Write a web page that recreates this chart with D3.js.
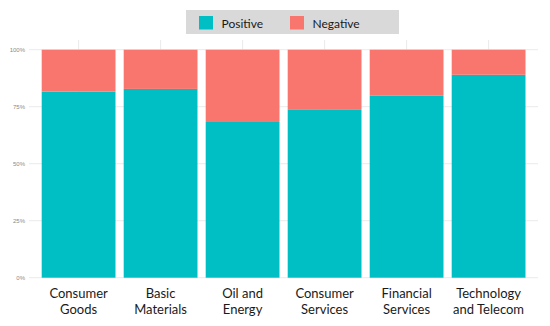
<!DOCTYPE html>
<html>
<head>
<meta charset="utf-8">
<script src="https://cdn.jsdelivr.net/npm/d3@7"></script>
<style>
  body { margin: 0; background: #fff; }
  svg { display: block; }
</style>
</head>
<body>
<div id="container"></div>
<script>
// sectors on the x axis (each label split into two lines)
var sectors = ["Consumer Goods", "Basic Materials", "Oil and Energy", "Consumer Services", "Financial Services", "Technology and Telecom"];
var sectorLines = [["Consumer", "Goods"], ["Basic", "Materials"], ["Oil and", "Energy"], ["Consumer", "Services"], ["Financial", "Services"], ["Technology", "and Telecom"]];
// share of positive mentions, negative is the rest
var positive = [0.816, 0.828, 0.683, 0.736, 0.798, 0.890];
var negative = [0.184, 0.172, 0.317, 0.264, 0.202, 0.110];
var seriesNames = ["Positive", "Negative"];
var seriesColors = ["#00BFC4", "#F8766D"];
var yTicks = [0, 0.25, 0.5, 0.75, 1];

var width = 550,
    height = 326;

var svg = d3.select('#container').append('svg')
      .attr("width", width)
      .attr("height", height);

var x = d3.scaleBand()
      .domain(sectors)
      .range([37.6, 529.6])
      .paddingInner(0.1)
      .paddingOuter(0.05);

var y = d3.scaleLinear()
      .domain([0, 1])
      .range([277.7, 49.7]);

// grid
var grid = svg.append('g').attr('class', 'grid');
grid.selectAll('line.h')
    .data(yTicks)
    .enter()
    .append('line')
    .attr('x1', 29).attr('x2', 538)
    .attr('y1', function(d) { return y(d); })
    .attr('y2', function(d) { return y(d); })
    .attr('stroke', '#ebebeb')
    .attr('stroke-width', 1);
grid.selectAll('line.v')
    .data(sectors)
    .enter()
    .append('line')
    .attr('x1', function(d) { return x(d) + x.bandwidth() / 2; })
    .attr('x2', function(d) { return x(d) + x.bandwidth() / 2; })
    .attr('y1', 40).attr('y2', 278)
    .attr('stroke', '#ebebeb')
    .attr('stroke-width', 1);

var rows = sectors.map(function(s, i) {
  return {sector: s, Positive: positive[i], Negative: negative[i]};
});
var stacked = d3.stack().keys(seriesNames)(rows);

svg.append('g')
    .attr('class', 'bars')
    .selectAll('g')
    .data(stacked)
    .enter()
    .append('g')
    .attr('fill', function(d, i) { return seriesColors[i]; })
    .selectAll('rect')
    .data(function(d) { return d; })
    .enter()
    .append('rect')
    .attr('x', function(d) { return x(d.data.sector); })
    .attr('width', x.bandwidth())
    .attr('y', function(d) { return y(d[1]); })
    .attr('height', function(d) { return y(d[0]) - y(d[1]); });

// y axis labels (tiny, grey)
var yAxis = d3.axisLeft(y)
      .tickValues(yTicks)
      .tickFormat(d3.format(".0%"))
      .tickSize(0)
      .tickPadding(4);
var yg = svg.append('g')
      .attr('transform', 'translate(29,0)')
      .call(yAxis);
yg.select('.domain').remove();
yg.selectAll('text')
    .attr('fill', '#8a8a8a')
    .style('font-family', 'Liberation Sans, sans-serif')
    .style('font-size', '6px');

// x labels, two lines each
var xl = svg.append('g')
    .attr('class', 'xlabels')
    .selectAll('text')
    .data(sectors)
    .enter()
    .append('text')
    .attr('text-anchor', 'middle')
    .attr('fill', '#1a1a1a')
    .style('font-family', 'Lato, sans-serif')
    .style('font-size', '13px');
xl.selectAll('tspan')
    .data(function(d, i) { return sectorLines[i].map(function(t) { return {t: t, s: d}; }); })
    .enter()
    .append('tspan')
    .attr('x', function(d) { return x(d.s) + x.bandwidth() / 2; })
    .attr('y', function(d, j) { return 298 + j * 16; })
    .text(function(d) { return d.t; });

// legend
var legend = svg.append('g').attr('class', 'legend');
legend.append('rect')
    .attr('x', 186).attr('y', 10)
    .attr('width', 213).attr('height', 24)
    .attr('fill', '#d9d9d9');
var legendX = [199, 290];
var item = legend.selectAll('g.item')
    .data(seriesNames)
    .enter()
    .append('g')
    .attr('transform', function(d, i) { return 'translate(' + legendX[i] + ',16)'; });
item.append('rect')
    .attr('width', 14).attr('height', 13.5)
    .attr('fill', function(d, i) { return seriesColors[i]; });
item.append('text')
    .attr('x', 22.5).attr('y', 11.5)
    .attr('fill', '#1a1a1a')
    .style('font-family', 'Lato, sans-serif')
    .style('font-size', '12px')
    .text(function(d) { return d; });
</script>
</body>
</html>
